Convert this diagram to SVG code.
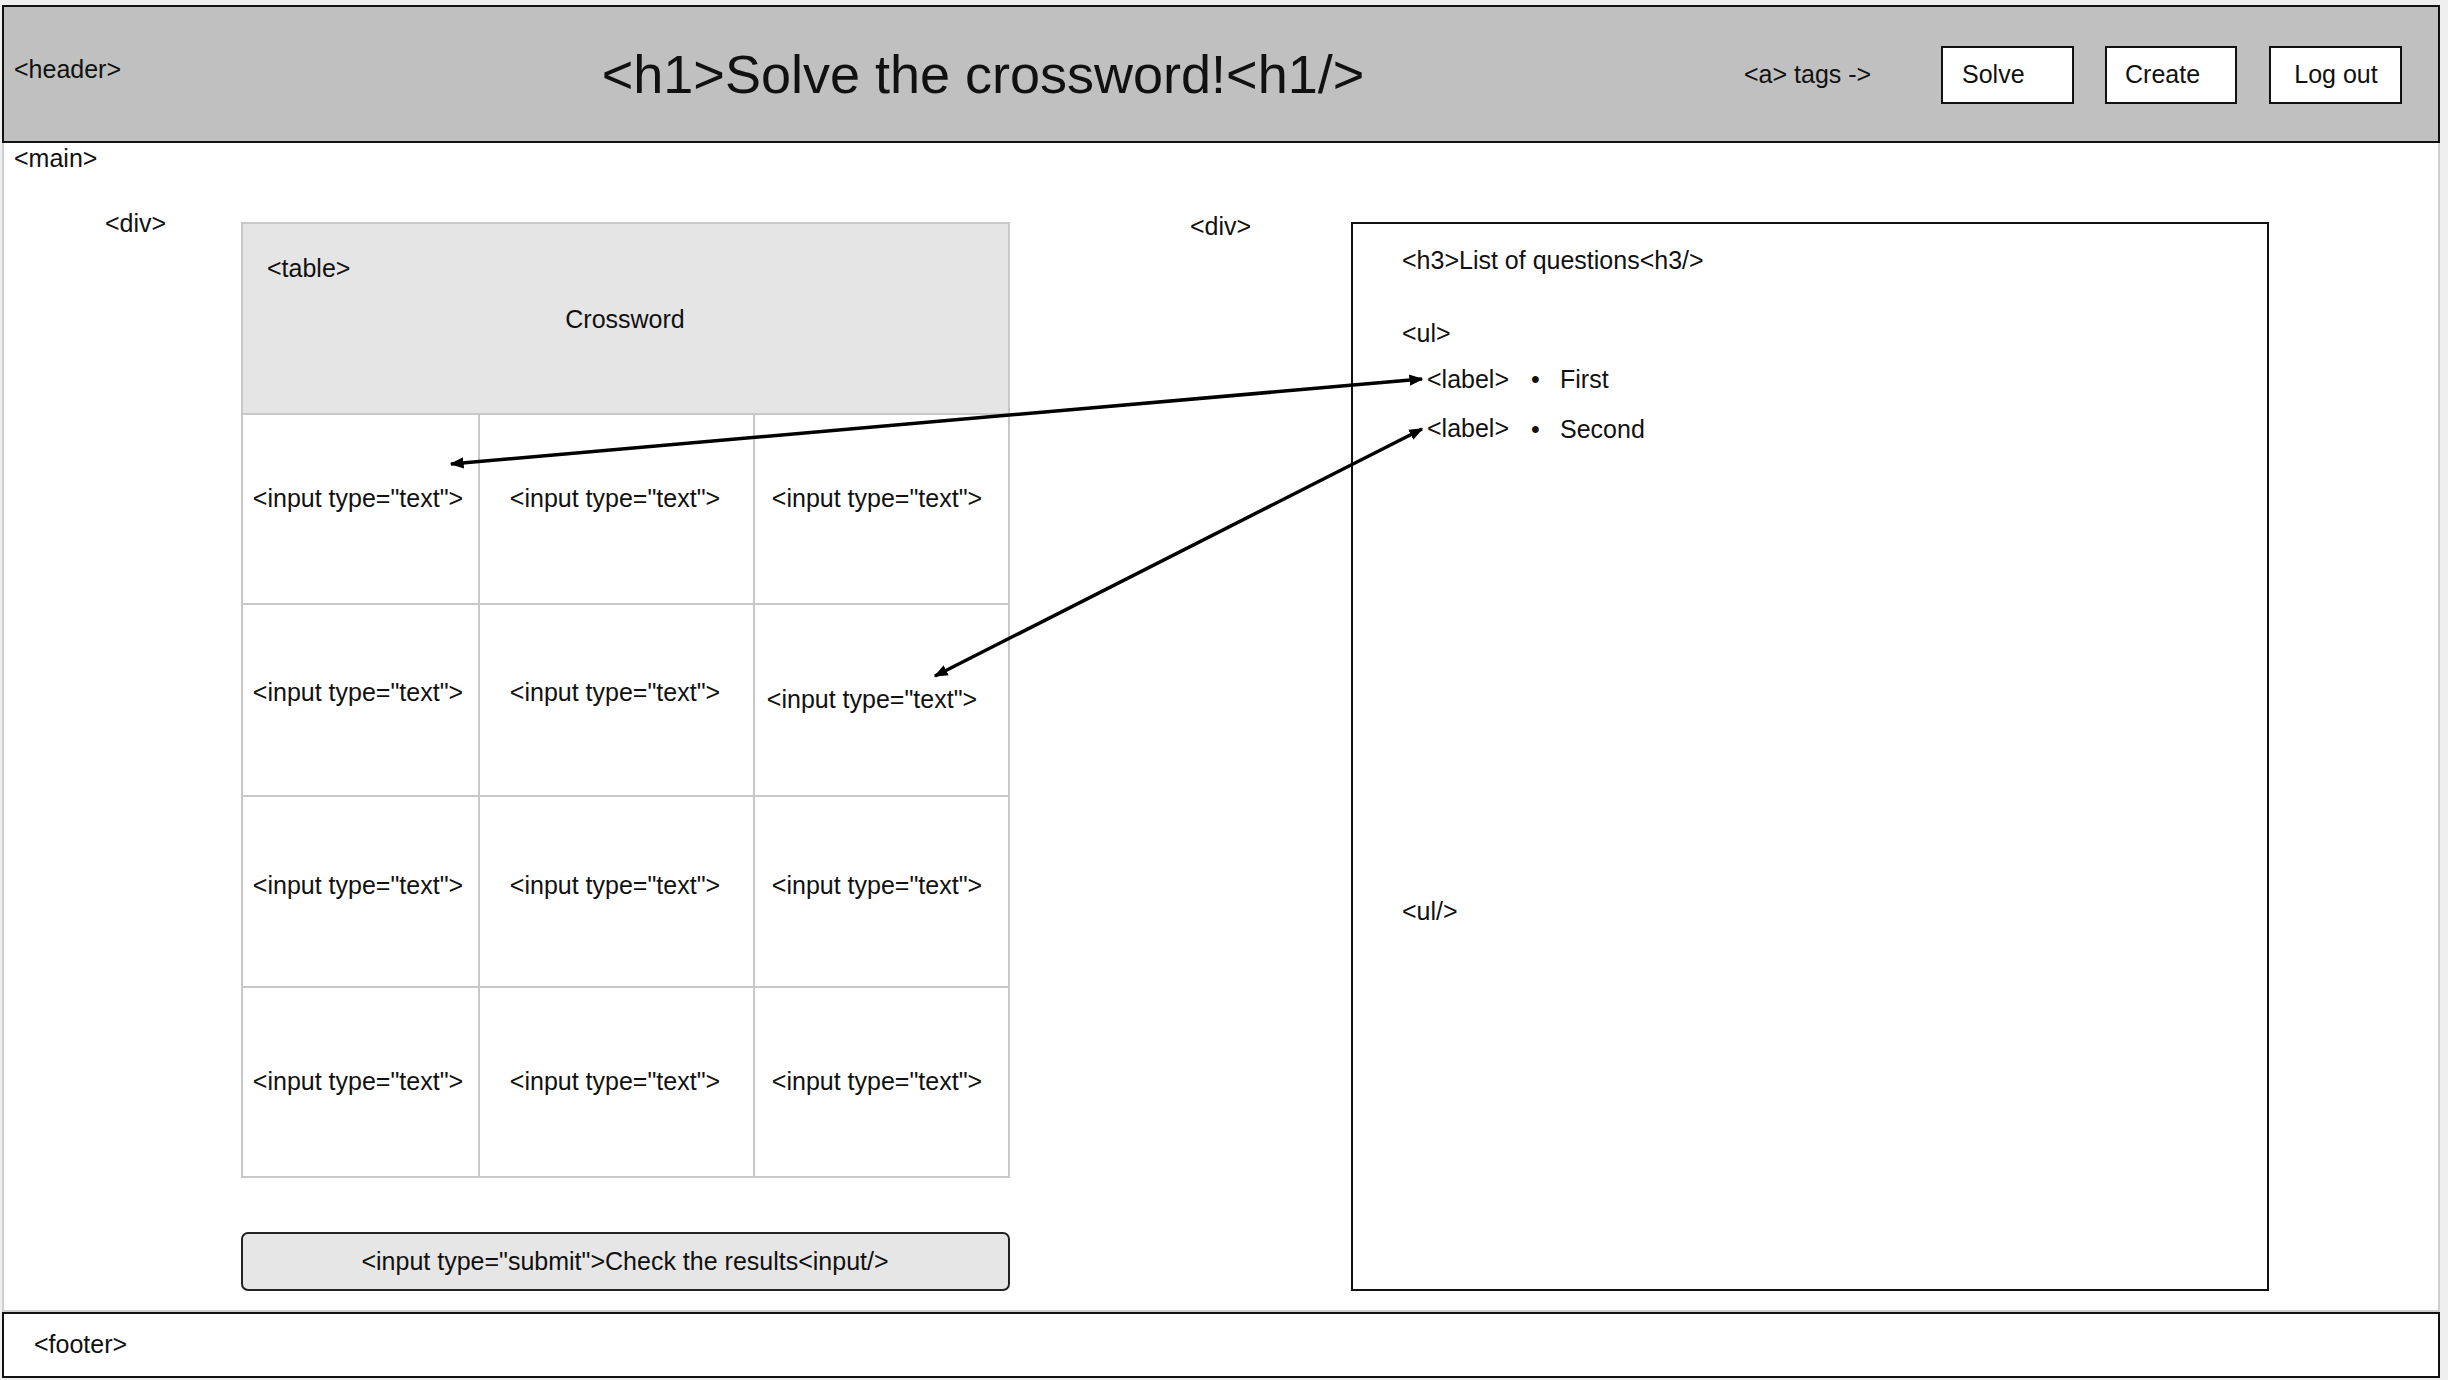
<svg xmlns="http://www.w3.org/2000/svg" width="2448" height="1380" viewBox="0 0 2448 1380">
<defs>
<style>
text{font-family:"Liberation Sans",Arial,sans-serif;fill:#111;dominant-baseline:central;}
.t{font-size:25px;}
.mid{text-anchor:middle;}
.grid{stroke:#c8c8c8;stroke-width:2;fill:none;}
.box{fill:#fff;stroke:#111;stroke-width:2;}
.conn{stroke:#000;stroke-width:3.5;fill:none;marker-start:url(#ah);marker-end:url(#ah);}
</style>
<marker id="ah" viewBox="0 0 10 10" refX="9" refY="5" markerWidth="4" markerHeight="4" orient="auto-start-reverse" markerUnits="strokeWidth">
<path d="M0,1 L10,5 L0,9 z" fill="#000"/>
</marker>
</defs>
<rect x="0" y="0" width="2448" height="1380" fill="#efefef"/>
<g id="main">
<rect x="3" y="142" width="2436" height="1169" fill="#fff" stroke="#cfcfcf" stroke-width="2"/>
<text class="t" x="14" y="158">&lt;main&gt;</text>
</g>
<g id="header">
<rect x="3" y="6" width="2436" height="136" fill="#c0c0c0" stroke="#111" stroke-width="2"/>
<text class="t" x="14" y="69">&lt;header&gt;</text>
<text x="983" y="74" class="mid" style="font-size:54px">&lt;h1&gt;Solve the crossword!&lt;h1/&gt;</text>
<text class="t" x="1744" y="74">&lt;a&gt; tags -&gt;</text>
</g>
<g id="btn-solve">
<rect class="box" x="1942" y="47" width="131" height="56"/>
<text class="t" x="1962" y="74">Solve</text>
</g>
<g id="btn-create">
<rect class="box" x="2106" y="47" width="130" height="56"/>
<text class="t" x="2125" y="74">Create</text>
</g>
<g id="btn-logout">
<rect class="box" x="2270" y="47" width="131" height="56"/>
<text class="t mid" x="2336" y="74">Log out</text>
</g>
<g id="div-left">
<text class="t" x="105" y="223">&lt;div&gt;</text>
</g>
<g id="table">
<rect x="242" y="223" width="767" height="191" fill="#e5e5e5" stroke="#c8c8c8" stroke-width="2"/>
<text class="t" x="267" y="268">&lt;table&gt;</text>
<text class="t mid" x="625" y="319">Crossword</text>
<rect class="grid" x="242" y="414" width="767" height="763"/>
<path class="grid" d="M242,604H1009M242,796H1009M242,987H1009M479,414V1177M754,414V1177"/>
</g>
<g id="cells">
<text class="t mid" x="358" y="498">&lt;input type="text"&gt;</text>
<text class="t mid" x="615" y="498">&lt;input type="text"&gt;</text>
<text class="t mid" x="877" y="498">&lt;input type="text"&gt;</text>
<text class="t mid" x="358" y="692">&lt;input type="text"&gt;</text>
<text class="t mid" x="615" y="692">&lt;input type="text"&gt;</text>
<text class="t mid" x="872" y="699">&lt;input type="text"&gt;</text>
<text class="t mid" x="358" y="885">&lt;input type="text"&gt;</text>
<text class="t mid" x="615" y="885">&lt;input type="text"&gt;</text>
<text class="t mid" x="877" y="885">&lt;input type="text"&gt;</text>
<text class="t mid" x="358" y="1081">&lt;input type="text"&gt;</text>
<text class="t mid" x="615" y="1081">&lt;input type="text"&gt;</text>
<text class="t mid" x="877" y="1081">&lt;input type="text"&gt;</text>
</g>
<g id="submit">
<rect x="242" y="1233" width="767" height="57" rx="6" fill="#e6e6e6" stroke="#222" stroke-width="2"/>
<text class="t mid" x="625" y="1261">&lt;input type="submit"&gt;Check the results&lt;input/&gt;</text>
</g>
<g id="div-right">
<text class="t" x="1190" y="226">&lt;div&gt;</text>
<rect class="box" x="1352" y="223" width="916" height="1067"/>
<text class="t" x="1402" y="260">&lt;h3&gt;List of questions&lt;h3/&gt;</text>
<text class="t" x="1402" y="333">&lt;ul&gt;</text>
<text class="t" x="1402" y="911">&lt;ul/&gt;</text>
</g>
<g id="label-first">
<text class="t" x="1427" y="379">&lt;label&gt;</text>
<text class="t" x="1531" y="379">•</text>
<text class="t" x="1560" y="379">First</text>
</g>
<g id="label-second">
<text class="t" x="1427" y="428">&lt;label&gt;</text>
<text class="t" x="1531" y="429">•</text>
<text class="t" x="1560" y="429">Second</text>
</g>
<g id="footer">
<rect class="box" x="3" y="1313" width="2436" height="64"/>
<text class="t" x="34" y="1344">&lt;footer&gt;</text>
</g>
<g id="connectors">
<path class="conn" d="M1422,379 L451,464"/>
<path class="conn" d="M1422,429 L935,676"/>
</g>
</svg>
